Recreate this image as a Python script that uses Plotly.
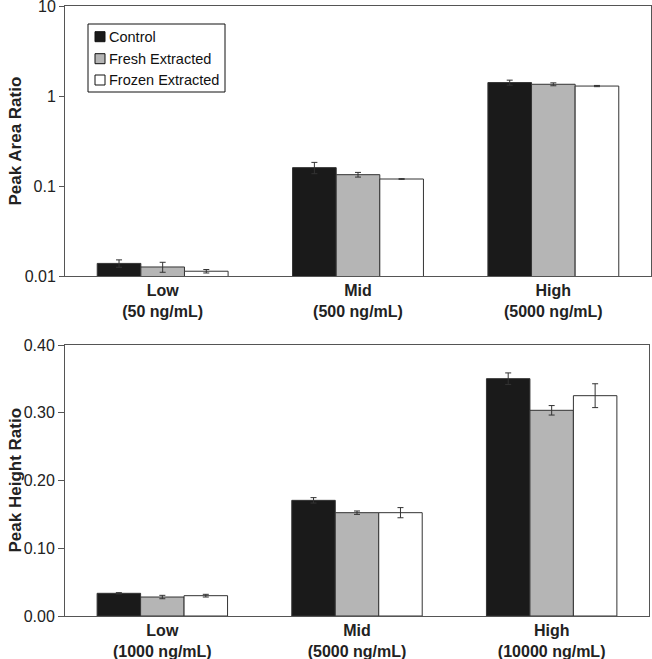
import plotly.graph_objects as go

# ---- data ----
series = ["Control", "Fresh Extracted", "Frozen Extracted"]
colors = ["#1a1a1a", "#b5b5b5", "#ffffff"]

area_cats = ["<b>Low</b><br><b>(50 ng/mL)</b>", "<b>Mid</b><br><b>(500 ng/mL)</b>", "<b>High</b><br><b>(5000 ng/mL)</b>"]
area_control = [0.0138, 0.160, 1.41]
area_fresh = [0.0126, 0.1336, 1.35]
area_frozen = [0.0113, 0.1196, 1.29]
area_control_err = [0.0013, 0.023, 0.09]
area_fresh_err = [0.0016, 0.008, 0.05]
area_frozen_err = [0.0005, 0.001, 0.02]

height_cats = ["<b>Low</b><br><b>(1000 ng/mL)</b>", "<b>Mid</b><br><b>(5000 ng/mL)</b>", "<b>High</b><br><b>(10000 ng/mL)</b>"]
height_control = [0.0335, 0.1707, 0.3503]
height_fresh = [0.028, 0.1525, 0.3036]
height_frozen = [0.030, 0.1525, 0.3252]
height_control_err = [0.001, 0.004, 0.0085]
height_fresh_err = [0.0025, 0.0025, 0.007]
height_frozen_err = [0.002, 0.0075, 0.0176]

area_vals = [area_control, area_fresh, area_frozen]
area_errs = [area_control_err, area_fresh_err, area_frozen_err]
height_vals = [height_control, height_fresh, height_frozen]
height_errs = [height_control_err, height_fresh_err, height_frozen_err]

fig = go.Figure()
edge = "#333333"
for i, name in enumerate(series):
    fig.add_trace(go.Bar(
        x=area_cats, y=area_vals[i], name=name, xaxis="x", yaxis="y",
        marker=dict(color=colors[i], line=dict(color=edge, width=1)),
        error_y=dict(type="data", array=area_errs[i], color="#333333", thickness=1, width=3),
        showlegend=False,
    ))
for i, name in enumerate(series):
    fig.add_trace(go.Bar(
        x=height_cats, y=height_vals[i], name=name, xaxis="x2", yaxis="y2",
        marker=dict(color=colors[i], line=dict(color=edge, width=1)),
        error_y=dict(type="data", array=height_errs[i], color="#333333", thickness=1, width=3),
        showlegend=False,
    ))

W, H = 652, 659
L, R, T, B = 65, 1, 6, 43
ph = H - T - B
pw = W - L - R


def px(x):
    return (x - L) / pw


def py(y):
    return (H - B - y) / ph


FONT = "Liberation Sans, Arial"
axis_common = dict(showline=True, linecolor="#555555", linewidth=1, mirror=True,
                   showgrid=False, zeroline=False, automargin=False,
                   ticklabeloverflow="allow",
                   tickfont=dict(family=FONT, size=16, color="#222222"))

shapes = []
annotations = [
    dict(text="<b>Peak Area Ratio</b>", textangle=-90, xref="paper", yref="paper",
         x=px(14.5), y=py(141), xanchor="center", yanchor="middle",
         showarrow=False, font=dict(family=FONT, size=17, color="#222222")),
    dict(text="<b>Peak Height Ratio</b>", textangle=-90, xref="paper", yref="paper",
         x=px(14.5), y=py(480), xanchor="center", yanchor="middle",
         showarrow=False, font=dict(family=FONT, size=17, color="#222222")),
]

# legend box drawn by hand (to match the compact original)
shapes.append(dict(type="rect", xref="paper", yref="paper",
                   x0=px(88), x1=px(225), y0=py(92), y1=py(24),
                   line=dict(color="#111111", width=1), fillcolor="white", layer="above"))
leg_y = [36.7, 58.7, 80.0]
for i, name in enumerate(series):
    yc = leg_y[i]
    shapes.append(dict(type="rect", xref="paper", yref="paper",
                       x0=px(95), x1=px(105), y0=py(yc + 5), y1=py(yc - 5),
                       line=dict(color="#111111", width=1), fillcolor=colors[i], layer="above"))
    annotations.append(dict(text=name, xref="paper", yref="paper", x=px(106.5), y=py(yc),
                            xanchor="left", yanchor="middle", showarrow=False,
                            font=dict(family=FONT, size=14.5, color="#111111")))

fig.update_layout(
    width=W, height=H,
    margin=dict(l=L, r=R, t=T, b=B),
    paper_bgcolor="white", plot_bgcolor="white",
    barmode="group", bargap=0.33, bargroupgap=0,
    font=dict(family=FONT, color="#222222"),
    showlegend=False,
    xaxis=dict(domain=[0, 1], anchor="y", ticks="", **axis_common),
    yaxis=dict(domain=[py(276), 1], anchor="x", type="log", range=[-2, 1],
               tickvals=[0.01, 0.1, 1, 10], ticktext=["0.01", "0.1", "1", "10"],
               ticks="outside", ticklen=5, tickcolor="#555555", **axis_common),
    xaxis2=dict(domain=[0, px(649)], anchor="y2", ticks="", **axis_common),
    yaxis2=dict(domain=[0, py(345)], anchor="x2", range=[0, 0.40],
                tickvals=[0, 0.1, 0.2, 0.3, 0.4], ticktext=["0.00", "0.10", "0.20", "0.30", "0.40"],
                ticks="outside", ticklen=6, tickcolor="#555555", **axis_common),
    shapes=shapes,
    annotations=annotations,
)

fig.write_html("out.html", config={"displayModeBar": False},
               post_script="document.body.style.margin='0';document.body.style.overflow='hidden';")
